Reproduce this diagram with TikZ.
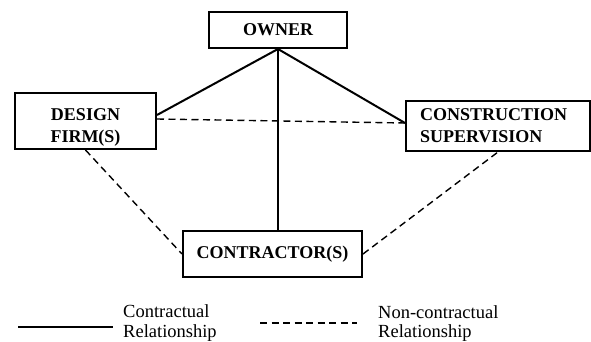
\documentclass[tikz,border=0pt]{standalone}
\usepackage{fontspec}
\setmainfont{Liberation Serif}
\usepackage{tikz}
\usetikzlibrary{calc}

\begin{document}
\begin{tikzpicture}[line cap=butt,line join=miter,x=1pt,y=-1pt,
	box/.style={draw,line width=2pt,inner sep=0pt,align=center,font=\fontsize{18}{22}\selectfont\bfseries},
	rel/.style={line width=2pt},
	nonrel/.style={line width=1.4pt,dash pattern=on 7pt off 4.5pt},
	legend/.style={inner sep=0pt,font=\fontsize{18.5}{20}\selectfont}]
	\useasboundingbox (0,0) rectangle (591,342);
	% the four parties
	\node[box,minimum width=138,minimum height=36] (owner) at (278,30) {OWNER};
	\node[box,minimum width=141,minimum height=56] (design) at (85.5,121) {\rule{0pt}{24pt}DESIGN\\FIRM(S)};
	\node[box,minimum width=184,minimum height=50,text width=156,align=left] (super) at (498,126) {CONSTRUCTION\\SUPERVISION};
	\node[box,minimum width=179,minimum height=46] (contractor) at (272.5,254) {CONTRACTOR(S)};
	% contracts
	\draw[rel] (owner.south) -- ([yshift=6pt]design.east);
	\draw[rel] (owner.south) -- ([yshift=3pt]super.west);
	\draw[rel] (owner.south) -- (owner.south |- contractor.north);
	% no contracts
	\draw[nonrel] ([yshift=2pt]design.east) -- ([yshift=3pt]super.west);
	\draw[nonrel] (design.south) -- (contractor.west);
	\draw[nonrel] (contractor.east) -- (super.south);
	% legend
	\coordinate (s1) at (18,327);
	\coordinate (s2) at (113,327);
	\coordinate (d1) at (260,323);
	\coordinate (d2) at (357,323);
	\draw[rel,line width=2.6pt] (s1) -- (s2);
	\draw[nonrel] (d1) -- (d2);
	\node[legend,anchor=base west] (lc1) at (123,317) {Contractual};
	\node[legend,anchor=base west] (lc2) at (123,337) {Relationship};
	\node[legend,anchor=base west] (ln1) at (378,318) {Non-contractual};
	\node[legend,anchor=base west] (ln2) at (378,337) {Relationship};
\end{tikzpicture}
\end{document}
